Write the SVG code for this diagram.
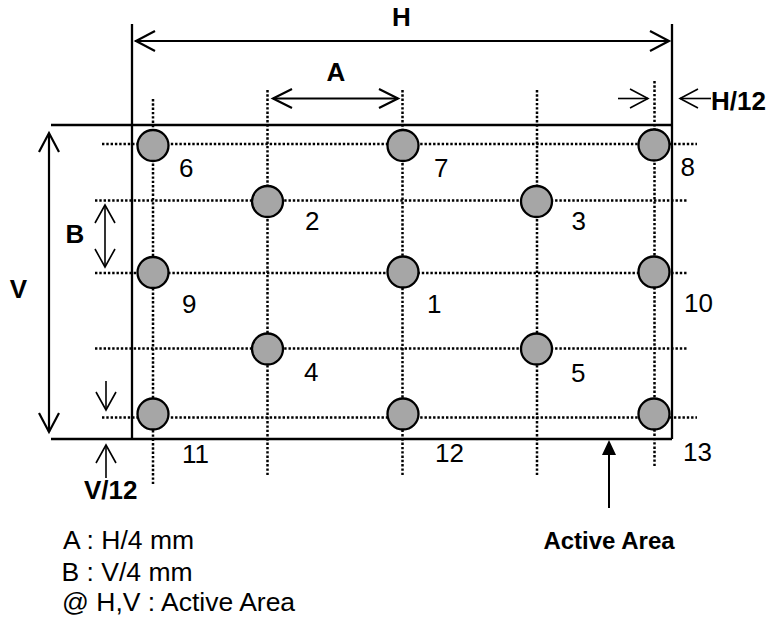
<svg xmlns="http://www.w3.org/2000/svg" width="771" height="621" viewBox="0 0 771 621">
<style>
.bg{fill:#ffffff}
.dot{stroke:#000;stroke-width:2.5;stroke-dasharray:2.4 1.9;fill:none}
.edge{stroke:#000;stroke-width:2.3;fill:none}
.arr{stroke:#000;stroke-width:2.2;fill:none;stroke-linecap:butt}
.arrs{stroke:#000;stroke-width:1.6;fill:none}
.pt{fill:#a6a6a6;stroke:#000;stroke-width:2.3}
.num{font-family:"Liberation Sans",Arial,sans-serif;font-size:26px;fill:#000}
.lbl{font-family:"Liberation Sans",Arial,sans-serif;font-size:26px;font-weight:bold;fill:#000}
.leg{font-family:"Liberation Sans",Arial,sans-serif;font-size:26.5px;fill:#000}
</style>
<rect class="bg" x="0" y="0" width="771" height="621"/>
<g id="grid">
  <line class="dot" x1="153" y1="99" x2="153" y2="485"/>
  <line class="dot" x1="267.5" y1="90" x2="267.5" y2="476"/>
  <line class="dot" x1="402.5" y1="90" x2="402.5" y2="476"/>
  <line class="dot" x1="537" y1="90" x2="537" y2="476"/>
  <line class="dot" x1="654.5" y1="81" x2="654.5" y2="467"/>
  <line class="dot" x1="102" y1="144" x2="697" y2="144"/>
  <line class="dot" x1="95" y1="200.5" x2="688" y2="200.5"/>
  <line class="dot" x1="95" y1="273" x2="688" y2="273"/>
  <line class="dot" x1="95" y1="348.5" x2="688" y2="348.5"/>
  <line class="dot" x1="102" y1="417.5" x2="697" y2="417.5"/>
</g>
<g id="connectors">
  <line class="edge" x1="51" y1="125" x2="672" y2="125"/>
  <line class="edge" x1="51" y1="439" x2="672" y2="439"/>
  <line class="edge" x1="132" y1="24" x2="132" y2="439"/>
  <line class="edge" x1="672" y1="24" x2="672" y2="439"/>
  <line class="arr" x1="135" y1="41" x2="669" y2="41"/>
  <polyline class="arr" points="155,31 136,41 155,51"/>
  <polyline class="arr" points="650,31 669,41 650,51"/>
  <line class="arr" x1="273" y1="98.5" x2="398" y2="98.5"/>
  <polyline class="arr" points="292,89 273,98.5 292,108"/>
  <polyline class="arr" points="379,89 398,98.5 379,108"/>
  <line class="arrs" x1="618" y1="98.5" x2="648" y2="98.5"/>
  <polyline class="arrs" points="630,89 648,98.5 630,108"/>
  <line class="arrs" x1="680" y1="98.5" x2="711" y2="98.5"/>
  <polyline class="arrs" points="698,89 680,98.5 698,108"/>
  <line class="arr" x1="49" y1="134" x2="49" y2="432"/>
  <polyline class="arr" points="39,152 49,133 59,152"/>
  <polyline class="arr" points="39,413 49,432 59,413"/>
  <line class="arrs" x1="105" y1="206" x2="105" y2="266"/>
  <polyline class="arrs" points="95,223 105,205 115,223"/>
  <polyline class="arrs" points="95,249 105,267 115,249"/>
  <line class="arrs" x1="106" y1="381" x2="106" y2="410"/>
  <polyline class="arrs" points="96,392 106,410 116,392"/>
  <line class="arrs" x1="106" y1="446" x2="106" y2="478"/>
  <polyline class="arrs" points="96,463 106,445 116,463"/>
  <line class="arrs" x1="609" y1="454" x2="609" y2="508" style="stroke-width:2"/>
  <polygon points="609,440 602,455 616,455" fill="#000"/>
</g>
<g id="p6"><circle class="pt" cx="153" cy="145.5" r="15.5"/><text class="num" x="179" y="177">6</text></g>
<g id="p7"><circle class="pt" cx="403" cy="145.5" r="15.5"/><text class="num" x="434" y="177">7</text></g>
<g id="p8"><circle class="pt" cx="654" cy="145" r="15.5"/><text class="num" x="680.5" y="176">8</text></g>
<g id="p2"><circle class="pt" cx="267.5" cy="201.5" r="15.5"/><text class="num" x="305" y="230">2</text></g>
<g id="p3"><circle class="pt" cx="536.5" cy="201.5" r="15.5"/><text class="num" x="571.5" y="230">3</text></g>
<g id="p9"><circle class="pt" cx="153" cy="272.5" r="15.5"/><text class="num" x="182" y="313">9</text></g>
<g id="p1"><circle class="pt" cx="403" cy="272" r="15.5"/><text class="num" x="427" y="313">1</text></g>
<g id="p10"><circle class="pt" cx="654" cy="272" r="15.5"/><text class="num" x="684" y="312">10</text></g>
<g id="p4"><circle class="pt" cx="267.5" cy="349" r="15.5"/><text class="num" x="304" y="381">4</text></g>
<g id="p5"><circle class="pt" cx="536.5" cy="349" r="15.5"/><text class="num" x="571" y="382">5</text></g>
<g id="p11"><circle class="pt" cx="153" cy="414" r="15.5"/><text class="num" x="182" y="463">11</text></g>
<g id="p12"><circle class="pt" cx="403" cy="414" r="15.5"/><text class="num" x="435" y="462">12</text></g>
<g id="p13"><circle class="pt" cx="654" cy="414" r="15.5"/><text class="num" x="683" y="461">13</text></g>
<g id="labels">
  <text class="lbl" x="401.5" y="26" text-anchor="middle">H</text>
  <text class="lbl" x="336" y="81" text-anchor="middle">A</text>
  <text class="lbl" x="711" y="110">H/12</text>
  <text class="lbl" x="18.5" y="298" text-anchor="middle">V</text>
  <text class="lbl" x="75" y="243" text-anchor="middle">B</text>
  <text class="lbl" x="84" y="499">V/12</text>
  <text class="lbl" x="609" y="549" text-anchor="middle" style="font-size:24px">Active Area</text>
</g>
<g id="legend">
  <text class="leg" x="63" y="549">A : H/4 mm</text>
  <text class="leg" x="61.5" y="581">B : V/4 mm</text>
  <text class="leg" x="62" y="611">@ H,V : Active Area</text>
</g>
</svg>
